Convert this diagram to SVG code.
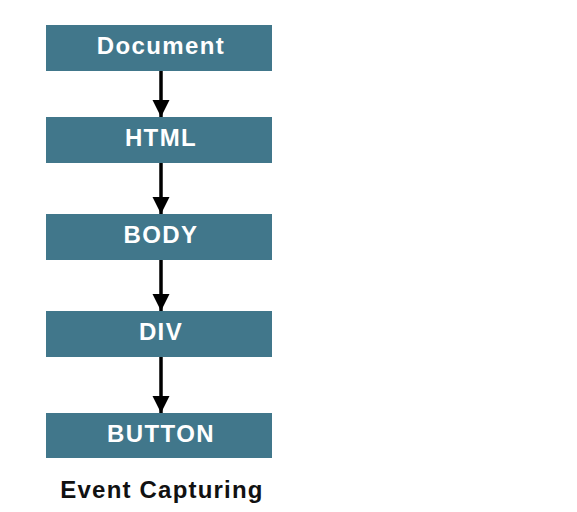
<svg xmlns="http://www.w3.org/2000/svg" width="577" height="512" viewBox="0 0 577 512">
<defs>
<style>
.box{fill:#41778b;}
.lbl{font-family:"Liberation Sans",Arial,sans-serif;font-weight:bold;font-size:24px;letter-spacing:1.4px;fill:#ffffff;text-anchor:middle;}
.cap{font-family:"Liberation Sans",Arial,sans-serif;font-weight:bold;font-size:24px;letter-spacing:1.2px;fill:#111111;text-anchor:middle;}
.con{stroke:#000;stroke-width:3.5;fill:none;marker-end:url(#ah);}
</style>
<marker id="ah" viewBox="0 0 10 10" refX="10" refY="5" markerWidth="5" markerHeight="5.2" orient="auto" markerUnits="strokeWidth">
<path d="M0,0 L10,5 L0,10 z" fill="#000"/>
</marker>
</defs>
<rect width="577" height="512" fill="#ffffff"/>
<g id="connectors">
<line class="con" x1="161" y1="71" x2="161" y2="117"/>
<line class="con" x1="161" y1="163" x2="161" y2="214"/>
<line class="con" x1="161" y1="260" x2="161" y2="311"/>
<line class="con" x1="161" y1="357" x2="161" y2="413"/>
</g>
<g id="document"><rect class="box" x="46" y="25" width="226" height="46"/><text class="lbl" x="161" y="54">Document</text></g>
<g id="html"><rect class="box" x="46" y="117" width="226" height="46"/><text class="lbl" x="161" y="146">HTML</text></g>
<g id="body"><rect class="box" x="46" y="214" width="226" height="46"/><text class="lbl" x="161" y="243">BODY</text></g>
<g id="div"><rect class="box" x="46" y="311" width="226" height="46"/><text class="lbl" x="161" y="340">DIV</text></g>
<g id="button"><rect class="box" x="46" y="413" width="226" height="45"/><text class="lbl" x="161" y="442">BUTTON</text></g>
<text class="cap" x="162" y="498">Event Capturing</text>
</svg>
